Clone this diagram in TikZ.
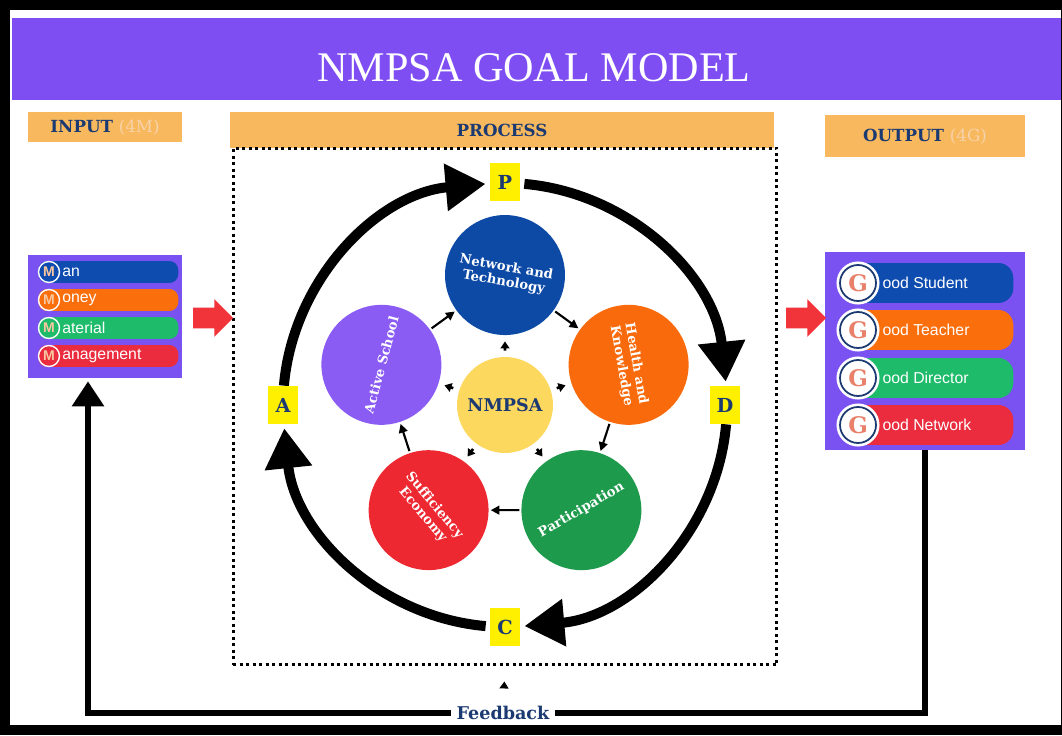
\documentclass[tikz,border=0pt]{standalone}
\usepackage{fontspec}
\setmainfont{Liberation Serif}
\newfontfamily\slabfont{DejaVu Serif}
\newfontfamily\rowfont{Liberation Sans}
\usetikzlibrary{positioning, calc, arrows.meta, shapes.arrows}

\definecolor{titlepurple}{HTML}{7E4EF3}
\definecolor{panelpurple}{HTML}{7B52F2}
\definecolor{labelorange}{HTML}{F8B95E}
\definecolor{softorange}{HTML}{F7D2A8}
\definecolor{navytext}{HTML}{1C3A72}
\definecolor{mblue}{HTML}{0F4CB0}
\definecolor{morange}{HTML}{FA6E0C}
\definecolor{mgreen}{HTML}{1DBB6A}
\definecolor{mred}{HTML}{EA2C3E}
\definecolor{ringpeach}{HTML}{F9C7A0}
\definecolor{gsalmon}{HTML}{E8806A}
\definecolor{arrowred}{HTML}{F0343A}
\definecolor{pdcayellow}{HTML}{FFF000}
\definecolor{hubyellow}{HTML}{FDD85E}
\definecolor{cblue}{HTML}{0D4AA6}
\definecolor{corange}{HTML}{F86A0B}
\definecolor{cgreen}{HTML}{1E9A4C}
\definecolor{cred}{HTML}{EE2830}
\definecolor{cpurple}{HTML}{8B5CF4}

\tikzset{
  labbox/.style={fill=labelorange, inner sep=0pt, text=navytext,
    font=\slabfont\bfseries\fontsize{9.5}{11}\selectfont},
  panel/.style={fill=panelpurple, inner sep=0pt},
  mbar/.style={rounded corners=0.18cm, minimum width=2.8cm, minimum height=0.44cm, inner sep=0pt, anchor=west},
  mring/.style={circle, draw=white, line width=0.8pt, minimum size=0.42cm, inner sep=0pt,
    text=ringpeach, font=\rowfont\bfseries\fontsize{8}{8}\selectfont},
  rowtxt/.style={text=white, inner sep=0pt, font=\rowfont\fontsize{9}{10}\selectfont},
  gbar/.style={rounded corners=0.3cm, minimum width=3.46cm, minimum height=0.8cm, inner sep=0pt, anchor=west},
  gring/.style={circle, fill=white, draw=navytext, line width=1pt, preaction={draw=white, line width=4pt},
    minimum size=0.72cm, inner sep=0pt, text=gsalmon, font=\slabfont\bfseries\fontsize{13}{13}\selectfont},
  redarr/.style={single arrow, fill=arrowred, minimum height=0.8cm, inner xsep=0pt, inner ysep=0.2cm,
    single arrow head extend=0.17cm},
  pdca/.style={fill=pdcayellow, minimum width=0.6cm, minimum height=0.76cm, inner sep=0pt, text=navytext,
    font=\slabfont\bfseries\fontsize{11}{11}\selectfont},
  cyclearr/.style={line width=0.2cm, -{Triangle[length=0.8cm, width=0.9cm]}},
  petal/.style={circle, minimum size=2.4cm, inner sep=0pt, align=center, text=white,
    font=\slabfont\bfseries\fontsize{7.5}{8.5}\selectfont},
  hubcirc/.style={circle, fill=hubyellow, minimum size=1.92cm, inner sep=0pt, text=navytext,
    font=\slabfont\bfseries\fontsize{10}{10}\selectfont},
  smallarr/.style={line width=1.2pt, -{Triangle[length=5pt, width=5pt]}, shorten <=1pt, shorten >=1pt},
  hubarr/.style={line width=1.5pt, -{Triangle[length=4pt, width=5pt]}, shorten <=0.12cm, shorten >=0.12cm},
  fbline/.style={line width=0.12cm},
}

\begin{document}
\begin{tikzpicture}[x=0.02cm, y=0.02cm]
    \useasboundingbox (0,0) rectangle (1062,735);

    % Frame and title bar
    \fill[titlepurple] (12,635) rectangle (1062,717);
    \draw[line width=0.2cm] (5,5) rectangle (1066,730);
    \node[text=white, font=\fontsize{24}{24}\selectfont] (ttl) at (534,667) {NMPSA GOAL MODEL};

    % Column heads
    \node[labbox, minimum width=3.1cm, minimum height=0.6cm] (inlab) at (105,608)
      {INPUT \textcolor{softorange}{\mdseries(4M)}};
    \node[labbox, minimum width=10.9cm, minimum height=0.72cm] (proclab) at (502,605) {PROCESS};
    \node[labbox, minimum width=4cm, minimum height=0.84cm] (outlab) at (925,599)
      {OUTPUT \textcolor{softorange}{\mdseries(4G)}};

    % Process frame
    \node[draw, line width=0.06cm, dash pattern=on 1.7pt off 2pt, minimum width=10.88cm,
      minimum height=10.34cm, inner sep=0pt] (frame) at (505,328.5) {};

    % Input 4M
    \node[panel, minimum width=3.08cm, minimum height=2.46cm] (inpanel) at (105,418.5) {};
    \foreach \i/\Y/\col/\rest in {1/463/mblue/an, 2/435/morange/oney, 3/407/mgreen/aterial, 4/379/mred/anagement} {
      \node[mbar, fill=\col] (mbar\i) at (38,\Y) {};
      \node[mring] (m\i) at (49,\Y) {M};
      \node[rowtxt, right=1pt of m\i] (mt\i) {\rest};
    }

    % Output 4G
    \node[panel, minimum width=4cm, minimum height=3.96cm] (outpanel) at (925,384) {};
    \foreach \i/\Y/\col/\rest in {1/452/mblue/ood Student, 2/405/morange/ood Teacher, 3/357/mgreen/ood Director, 4/310/mred/ood Network} {
      \node[gbar, fill=\col] (gbar\i) at (840,\Y) {};
      \node[gring] (g\i) at (858,\Y) {G};
      \node[rowtxt, right=3pt of g\i] (gt\i) {\rest};
    }

    \node[redarr] (inarr) at (208,417) {};
    \node[redarr] (outarr) at (801,417) {};

    % PDCA cycle
    \coordinate (cyc) at (505,330);
    \draw[cyclearr] ($(cyc)+(175:4.44cm)$) arc[start angle=175, end angle=95, radius=4.44cm];
    \draw[cyclearr] ($(cyc)+(85:4.44cm)$) arc[start angle=85, end angle=6, radius=4.44cm];
    \draw[cyclearr] ($(cyc)+(-5:4.44cm)$) arc[start angle=-5, end angle=-85, radius=4.44cm];
    \draw[cyclearr] ($(cyc)+(-95:4.44cm)$) arc[start angle=-95, end angle=-174, radius=4.44cm];
    \node[pdca] (P) at (505,553) {P};
    \node[pdca] (D) at (725,330) {D};
    \node[pdca] (C) at (505,108) {C};
    \node[pdca] (A) at (283,330) {A};

    % Five circles round the hub
    \foreach \ang/\nm/\col/\rot/\txt in {90/net/cblue/-10/{Network and\\Technology},
        18/hea/corange/-80/{Health and\\Knowledge}, -54/par/cgreen/30/{Participation},
        -126/suf/cred/-50/{Sufficiency\\Economy}, 162/act/cpurple/75/{Active School}} {
      \node[petal, fill=\col, rotate=\rot] (\nm) at ($(cyc)+(\ang:2.6cm)$) {\txt};
    }
    \node[hubcirc] (hub) at (cyc) {NMPSA};

    \draw[smallarr] (net) -- (hea);
    \draw[smallarr] (hea) -- (par);
    \draw[smallarr] (par) -- (suf);
    \draw[smallarr] (suf) -- (act);
    \draw[smallarr] (act) -- (net);
    \foreach \nm in {net,hea,par,suf,act}
      \draw[hubarr] (hub) -- (\nm);

    % Feedback loop
    \node[fill=white, inner sep=3pt, text=navytext, font=\slabfont\bfseries\fontsize{10}{11}\selectfont] (fb) at (503,22) {Feedback};
    \draw[fbline] (outpanel.south) |- (fb.east);
    \draw[fbline, -{Triangle[length=0.5cm, width=0.62cm]}, shorten >=0.06cm] (fb.west) -| ([xshift=-0.34cm]inpanel.south);
    \draw[hubarr, shorten <=0.3cm, shorten >=0.3cm] (fb) -- (frame.south);

  \end{tikzpicture}
\end{document}
